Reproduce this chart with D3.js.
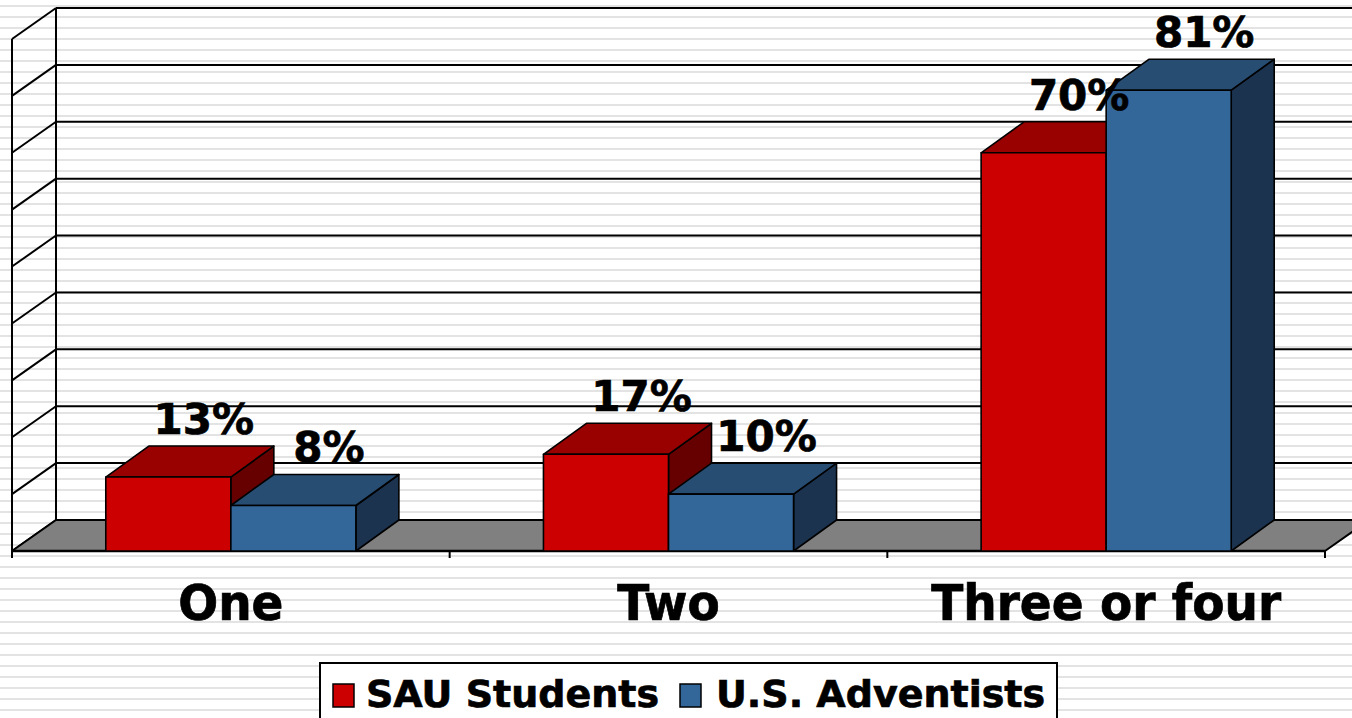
<!DOCTYPE html>
<html>
<head>
<meta charset="utf-8">
<script src="https://cdn.jsdelivr.net/npm/d3@7"></script>
<style>
  html, body { margin: 0; padding: 0; background: #fff; overflow: hidden; }
  svg { display: block; }
  text { font-family: "DejaVu Sans", Verdana, sans-serif; font-weight: bold; fill: #000; stroke: #000; stroke-width: 0.7px; }
</style>
</head>
<body>
<svg id="chart" width="1352" height="718"></svg>
<script>
// ---- Data ----
const categories = ["One", "Two", "Three or four"];
const series = ["SAU Students", "U.S. Adventists"];
const sauStudents = [13, 17, 70];
const usAdventists = [8, 10, 81];
const yTicks = [0, 10, 20, 30, 40, 50, 60, 70, 80, 90];

const values = [sauStudents, usAdventists];
const palette = {
  "SAU Students":   { front: "#cc0000", top: "#990000", side: "#660000" },
  "U.S. Adventists": { front: "#336699", top: "#284d73", side: "#1b334f" }
};

// ---- Layout ----
const W = 1352, H = 718;
const svg = d3.select("#chart");
const left = 12, right = 1325, base = 551, topY = 39;
const depthX = 44, depthY = -31;      // floor/wall depth
const barDX = 43, barDY = -31;        // bar depth

const x = d3.scaleBand().domain(categories).range([left, right]).paddingInner(0).paddingOuter(0);
const xs = d3.scaleBand().domain(series).range([0, x.bandwidth()]).paddingInner(0).paddingOuter(0.75);
const y = d3.scaleLinear().domain([0, 90]).range([base, topY]);

// ---- Background stripes ----
const defs = svg.append("defs");
const pat = defs.append("pattern").attr("id", "stripes").attr("patternUnits", "userSpaceOnUse")
  .attr("width", 20).attr("height", 11).attr("y", 0);
pat.append("rect").attr("width", 20).attr("height", 11).attr("fill", "#fff");
pat.append("rect").attr("y", 5).attr("width", 20).attr("height", 2).attr("fill", "#e3e3e3");
svg.append("rect").attr("width", W).attr("height", H).attr("fill", "url(#stripes)");

// ---- Walls / gridlines ----
const grid = svg.append("g").attr("stroke", "#000").attr("stroke-width", 2).attr("fill", "none");
grid.selectAll("line.h").data(yTicks).join("line")
  .attr("x1", left + depthX).attr("x2", W + 10)
  .attr("y1", d => y(d) + depthY).attr("y2", d => y(d) + depthY);
grid.selectAll("line.d").data(yTicks).join("line")
  .attr("x1", left).attr("y1", d => y(d))
  .attr("x2", left + depthX).attr("y2", d => y(d) + depthY);
grid.append("line").attr("x1", left + depthX).attr("x2", left + depthX)
  .attr("y1", y(90) + depthY).attr("y2", y(0) + depthY);
grid.append("line").attr("x1", left).attr("x2", left).attr("y1", y(90)).attr("y2", base + 7);

// ---- Floor ----
svg.append("path")
  .attr("d", `M${left},${base} L${right},${base} L${right + depthX},${base + depthY} L${left + depthX},${base + depthY} Z`)
  .attr("fill", "#808080").attr("stroke", "#000").attr("stroke-width", 2).attr("stroke-linejoin", "round");
svg.append("line").attr("x1", left).attr("x2", right).attr("y1", base).attr("y2", base)
  .attr("stroke", "#000").attr("stroke-width", 2.5);
const tickXs = categories.map(c => x(c)).concat([right]);
svg.selectAll("line.ct").data(tickXs).join("line")
  .attr("x1", d => d).attr("x2", d => d).attr("y1", base).attr("y2", base + 7)
  .attr("stroke", "#000").attr("stroke-width", 2);

// ---- Bars ----
const barsG = svg.append("g").attr("stroke", "#000").attr("stroke-width", 1.6).attr("stroke-linejoin", "round");
categories.forEach((cat, ci) => {
  series.forEach((s, si) => {
    const v = values[si][ci];
    const x0 = x(cat) + xs(s), x1 = x0 + xs.bandwidth();
    const yt = y(v), yb = y(0);
    const c = palette[s];
    const g = barsG.append("g");
    g.append("path").attr("fill", c.side)
      .attr("d", `M${x1},${yt} L${x1 + barDX},${yt + barDY} L${x1 + barDX},${yb + barDY} L${x1},${yb} Z`);
    g.append("path").attr("fill", c.top)
      .attr("d", `M${x0},${yt} L${x0 + barDX},${yt + barDY} L${x1 + barDX},${yt + barDY} L${x1},${yt} Z`);
    g.append("rect").attr("fill", c.front)
      .attr("x", x0).attr("y", yt).attr("width", x1 - x0).attr("height", yb - yt);
  });
});

// ---- Value labels ----
categories.forEach((cat, ci) => {
  series.forEach((s, si) => {
    const v = values[si][ci];
    const cx = x(cat) + xs(s) + xs.bandwidth() / 2 + barDX / 2 + 14;
    svg.append("text").attr("x", cx).attr("y", y(v) + barDY - 12)
      .attr("text-anchor", "middle").attr("font-size", 42).text(v + "%");
  });
});

// ---- Category labels ----
svg.selectAll("text.cat").data(categories).join("text")
  .attr("class", "cat")
  .attr("text-anchor", "middle")
  .attr("font-size", 47)
  .attr("transform", d => `translate(${x(d) + x.bandwidth() / 2},620) scale(1,1.06)`)
  .text(d => d);

// ---- Legend ----
const lg = svg.append("g");
lg.append("rect").attr("x", 320).attr("y", 663).attr("width", 737).attr("height", 70)
  .attr("fill", "#fff").attr("stroke", "#000").attr("stroke-width", 2);
const legendItems = [
  { s: series[0], sx: 333, tx: 366 },
  { s: series[1], sx: 680, tx: 716 }
];
legendItems.forEach(it => {
  lg.append("rect").attr("x", it.sx).attr("y", 684).attr("width", 21).attr("height", 23)
    .attr("fill", palette[it.s].front).attr("stroke", "#000").attr("stroke-width", 1.5);
  lg.append("text").attr("x", it.tx).attr("y", 707).attr("font-size", 38).text(it.s);
});
</script>
</body>
</html>
